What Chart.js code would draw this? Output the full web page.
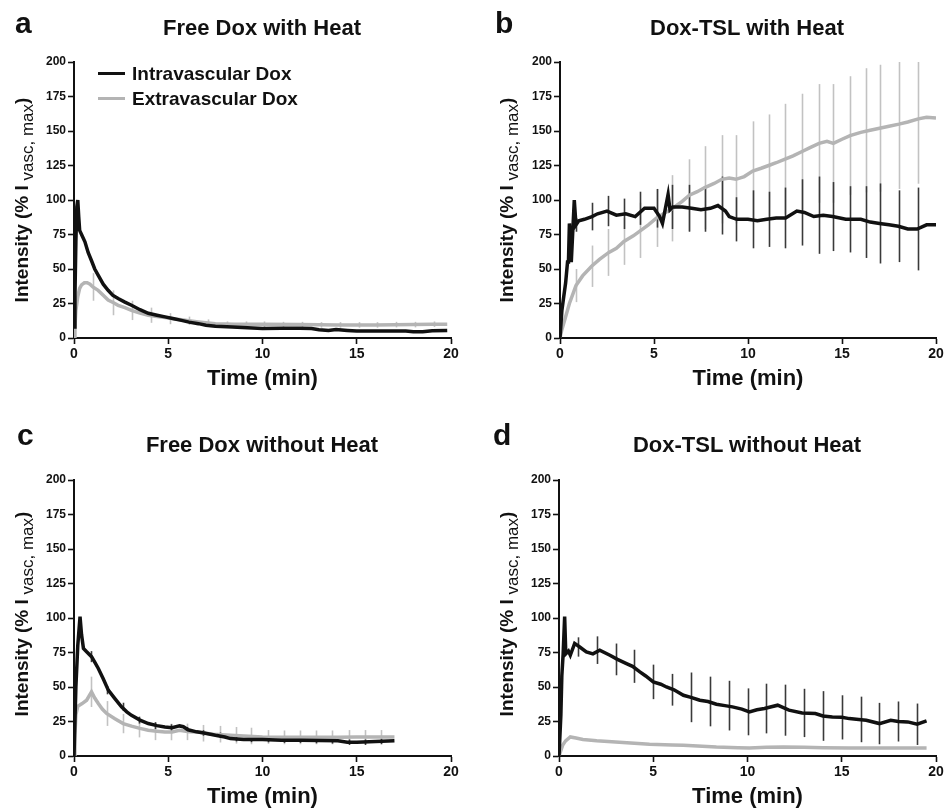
<!DOCTYPE html>
<html>
<head>
<meta charset="utf-8">
<script src="https://cdn.jsdelivr.net/npm/chart.js@4.4.1/dist/chart.umd.min.js"></script>
<style>
  body { margin: 0; background: #fff; width: 947px; height: 810px; position: relative; overflow: hidden;
         font-family: "Liberation Sans", Arial, sans-serif; color: #111; }
  canvas { position: absolute; display: block; }
  .letter { position: absolute; font-weight: bold; font-size: 30px; line-height: 1; }
  .ptitle { position: absolute; font-weight: bold; font-size: 22px; line-height: 1; white-space: nowrap; transform: translateX(-50%); }
  .ytitle { position: absolute; font-weight: bold; font-size: 19px; line-height: 1; white-space: nowrap;
            transform: translate(-50%, -50%) rotate(-90deg); }
  .ytitle sub { font-size: 17px; font-weight: normal; vertical-align: -5px; }
  .leg { position: absolute; font-weight: bold; font-size: 19px; line-height: 1; white-space: nowrap; }
  .leg i { position: absolute; width: 27px; height: 3px; }
</style>
</head>
<body>

<canvas id="ca" width="470" height="400" style="left:0;top:0"></canvas>
<canvas id="cb" width="477" height="400" style="left:470px;top:0"></canvas>
<canvas id="cc" width="470" height="410" style="left:0;top:400px"></canvas>
<canvas id="cd" width="477" height="410" style="left:470px;top:400px"></canvas>

<div class="letter" style="left:15px;top:8px">a</div>
<div class="letter" style="left:495px;top:8px">b</div>
<div class="letter" style="left:17px;top:420px">c</div>
<div class="letter" style="left:493px;top:420px">d</div>

<div class="ptitle" style="left:262px;top:17px">Free Dox with Heat</div>
<div class="ptitle" style="left:747px;top:17px">Dox-TSL with Heat</div>
<div class="ptitle" style="left:262px;top:434px">Free Dox without Heat</div>
<div class="ptitle" style="left:747px;top:434px">Dox-TSL without Heat</div>

<div class="ytitle" style="left:24px;top:200px">Intensity (% I<sub> vasc, max</sub>)</div>
<div class="ytitle" style="left:509px;top:200px">Intensity (% I<sub> vasc, max</sub>)</div>
<div class="ytitle" style="left:24px;top:614px">Intensity (% I<sub> vasc, max</sub>)</div>
<div class="ytitle" style="left:509px;top:614px">Intensity (% I<sub> vasc, max</sub>)</div>

<div class="leg" style="left:132px;top:64px"><i style="left:-34px;top:8px;background:#111"></i>Intravascular Dox</div>
<div class="leg" style="left:132px;top:89px"><i style="left:-34px;top:8px;background:#b4b4b4"></i>Extravascular Dox</div>

<script>
// axis ticks
const xTickValues = [0, 5, 10, 15, 20];
const yTickValues = [0, 25, 50, 75, 100, 125, 150, 175, 200];
const seriesNames = ['Intravascular Dox', 'Extravascular Dox'];

// a - Free Dox with Heat
const aIntraT = [0, 0.05, 0.1, 0.15, 0.2, 0.25, 0.3, 0.4, 0.58, 0.75, 0.93, 1.1, 1.28, 1.55, 1.81, 2.05, 2.34, 2.7, 3.05, 3.5, 3.94, 4.4, 4.83, 5.3, 5.7, 6.1, 6.6, 7.0, 7.5, 8.4, 9.2, 10.0, 11.0, 12.0, 12.6, 13.0, 13.5, 13.9, 14.5, 15.0, 16.0, 17.0, 17.6, 18.0, 18.5, 19.0, 19.8];
const aIntraV = [8, 30, 70, 95, 100, 88, 78, 75, 69.7, 62, 56, 50, 45.5, 39, 34.6, 31, 28.6, 26, 23.7, 20.5, 17.9, 16.5, 15.3, 14, 12.8, 11.5, 10.4, 9.3, 8.5, 8, 7.5, 6.8, 7, 7, 6.8, 6, 5.5, 6.2, 5.5, 5, 5, 5, 5, 4.5, 4.5, 5.2, 5.5];
const aExtraT = [0, 0.05, 0.1, 0.2, 0.3, 0.4, 0.55, 0.7, 0.85, 1.0, 1.28, 1.55, 1.81, 2.1, 2.34, 2.7, 3.05, 3.5, 3.94, 4.4, 4.83, 5.3, 5.7, 6.1, 6.6, 7.0, 7.5, 8.5, 10.0, 12.0, 14.0, 16.0, 18.0, 19.0, 19.8];
const aExtraV = [0, 8, 20, 30, 36, 38.5, 40, 40, 39, 37, 34.5, 31, 27.5, 25.5, 23.7, 22, 20, 18, 16.5, 15.5, 14.8, 14, 13.3, 12.5, 11.6, 11, 10.4, 10, 10, 9.7, 9.5, 9.5, 9.7, 10, 10];
const aErrT = [1.0, 2.05, 3.06, 4.1, 5.1, 6.1, 7.1, 8.1, 9.1, 10.1, 11.1, 12.1, 13.1, 14.1, 15.1, 16.1, 17.1, 18.1, 19.1];
const aExtraSd = [10, 9, 7, 5.5, 4, 3, 2.5, 2, 2, 2, 2, 2, 2, 2, 2, 2, 2, 2, 2];

// b - Dox-TSL with Heat
const bIntraT = [0, 0.1, 0.2, 0.3, 0.4, 0.45, 0.5, 0.6, 0.7, 0.76, 0.85, 1.0, 1.3, 1.7, 2.0, 2.5, 3.0, 3.5, 4.0, 4.5, 5.0, 5.3, 5.45, 5.75, 5.85, 6.0, 6.5, 7.0, 7.5, 8.0, 8.4, 8.8, 9.0, 9.4, 10.0, 10.5, 11.0, 11.5, 12.0, 12.6, 13.0, 13.5, 14.0, 14.5, 15.2, 15.5, 16.0, 16.5, 17.0, 17.5, 18.0, 18.5, 19.0, 19.5, 20.0];
const bIntraV = [0, 20, 30, 40, 55, 55, 83, 55, 83, 100, 82, 85, 86, 88, 90, 92, 89, 90, 88, 94, 94, 88, 83, 104, 93, 95, 95, 94, 93, 94, 96, 92, 88, 86, 86, 85, 86, 87, 87, 92, 91, 88, 89, 88, 86, 86, 86, 84, 83, 82, 81, 79, 79, 82, 82];
const bExtraT = [0, 0.1, 0.25, 0.5, 0.85, 1.2, 1.68, 2.1, 2.6, 3.0, 3.4, 3.9, 4.3, 4.7, 5.14, 5.5, 6.0, 6.5, 6.88, 7.3, 7.7, 8.2, 8.6, 9.0, 9.36, 9.8, 10.25, 10.7, 11.1, 11.5, 11.97, 12.4, 12.85, 13.3, 13.78, 14.2, 14.54, 15.0, 15.43, 16.0, 16.5, 17.0, 17.5, 18.03, 18.5, 19.06, 19.5, 20.0];
const bExtraV = [0, 6, 13, 25, 38, 45, 52, 57, 62, 65, 70, 74, 78, 82, 87, 90, 94, 99, 103.5, 106, 109, 112, 115, 116, 115, 117, 121, 123, 125, 127, 129.7, 132, 135, 138, 141, 142.5, 141, 144, 146.7, 149, 150.5, 152, 153.5, 155, 156.5, 158.8, 160, 159.5];
const bErrT = [0.85, 1.68, 2.57, 3.4, 4.26, 5.14, 5.97, 6.88, 7.73, 8.6, 9.36, 10.25, 11.1, 11.97, 12.85, 13.78, 14.54, 15.43, 16.28, 17.0, 18.03, 19.06];
const bExtraSd = [12, 15, 17, 17, 20, 21, 24, 26, 30, 32, 32, 36, 37, 40, 42, 43, 43, 43, 45, 46, 47, 47];
const bIntraSd = [5, 10, 11, 11, 12, 14, 16, 17, 16, 21, 16, 21, 20, 22, 24, 28, 25, 24, 26, 29, 26, 30];

// c - Free Dox without Heat
const cIntraT = [0, 0.1, 0.2, 0.32, 0.4, 0.5, 0.67, 0.93, 1.1, 1.29, 1.55, 1.82, 2.17, 2.52, 2.8, 3.05, 3.5, 3.94, 4.4, 4.82, 5.2, 5.6, 5.8, 6.05, 6.5, 6.9, 7.5, 8.0, 8.3, 9.0, 10.0, 11.0, 12.0, 13.0, 14.0, 14.5, 15.0, 16.0, 17.0];
const cIntraV = [0, 50, 80, 101, 88, 78, 75.5, 72, 68, 63.4, 56, 47.7, 41.6, 35.6, 32, 29.5, 26, 23.5, 22, 21, 20.5, 21.8, 21.2, 19, 17.5, 16.7, 15, 13.8, 12.6, 12, 11.9, 11.5, 11.5, 11.2, 11, 10, 10, 10.5, 11];
const cExtraT = [0, 0.05, 0.1, 0.2, 0.43, 0.67, 0.93, 1.1, 1.29, 1.5, 1.73, 2.17, 2.61, 3.05, 3.5, 3.94, 4.4, 4.82, 5.2, 5.6, 6.1, 6.6, 7.0, 7.4, 8.3, 9.0, 10.0, 11.0, 12.0, 13.0, 14.0, 15.0, 16.0, 17.0];
const cExtraV = [0, 15, 30, 36, 38, 40.4, 46.5, 42, 38, 34, 30.8, 27, 23.5, 21.6, 20, 18.7, 18, 17.4, 17.4, 18.7, 17.5, 17.4, 16.5, 15.8, 15, 14.5, 13.8, 13.5, 13.5, 13.5, 13.5, 13.8, 13.8, 13.8];
const cErrT = [0.9, 1.75, 2.61, 3.45, 4.3, 5.15, 6.02, 6.87, 7.75, 8.6, 9.4, 10.3, 11.15, 12.0, 12.85, 13.7, 14.6, 15.45, 16.3];
const cExtraSd = [11, 9, 7, 6.5, 6.5, 6, 6, 6, 6, 6, 6, 5, 5, 5, 5, 5, 5, 5, 5];
const cIntraSd = [4, 3, 3, 2.5, 2.5, 2.5, 2, 2, 2, 2, 2, 2, 2, 2, 2, 2, 2, 2, 2];

// d - Dox-TSL without Heat
const dIntraT = [0, 0.1, 0.15, 0.22, 0.3, 0.36, 0.5, 0.6, 0.83, 1.1, 1.45, 1.8, 2.16, 2.7, 3.1, 3.58, 3.9, 4.29, 4.6, 5.0, 5.4, 5.7, 6.1, 6.6, 7.0, 7.47, 7.9, 8.35, 8.8, 9.2, 9.7, 10.1, 10.5, 10.9, 11.6, 12.2, 12.9, 13.6, 14.0, 14.5, 15.0, 15.4, 15.9, 16.3, 17.0, 17.6, 18.0, 18.5, 19.0, 19.5];
const dIntraV = [0, 30, 58, 74, 101, 74, 76, 73, 81.6, 79, 75.5, 74, 76.7, 73, 70, 67, 65, 61, 58, 53.7, 52, 50, 48, 44, 42.5, 40.4, 39.5, 37.5, 36.5, 35.6, 34, 32, 33.5, 34.4, 36.8, 33.2, 31.2, 30.8, 29, 28.3, 28, 27.1, 26.5, 25.9, 23.5, 25.9, 25, 24.7, 23, 25.4];
const dExtraT = [0, 0.1, 0.2, 0.35, 0.6, 0.9, 1.27, 2.0, 3.0, 4.0, 4.8, 6.0, 6.6, 8.35, 9.5, 10.1, 11.0, 11.9, 13.0, 14.0, 15.4, 17.0, 18.0, 19.5];
const dExtraV = [0, 4, 8, 11, 13.8, 13, 11.9, 11, 10.2, 9.2, 8.5, 8, 7.8, 6.5, 6, 5.8, 6.3, 6.5, 6.3, 6, 5.8, 5.8, 5.8, 5.8];
const dErrT = [1, 2, 3, 4, 5, 6, 7, 8, 9, 10, 11, 12, 13, 14, 15, 16, 17, 18, 19];
const dIntraSd = [7, 10, 11.5, 12, 12.5, 11.5, 18, 18, 18, 17, 18, 18.5, 17.5, 18, 16, 16.5, 15, 14.5, 15];

const lineColors = ['#111111', '#b4b4b4'];
const barColors = ['#3a3a3a', '#c2c2c2'];

// value of the recorded point nearest to t (error bars sit on the mean curve)
function nearestValue(ts, vs, t) {
  let best = 0;
  ts.forEach((x, i) => { if (Math.abs(x - t) < Math.abs(ts[best] - t)) best = i; });
  return vs[best];
}

const errorBars = {
  id: 'errorBars',
  beforeDatasetsDraw(chart, args, opts) {
    const { ctx, chartArea, scales: { x, y } } = chart;
    ctx.save();
    ctx.beginPath();
    ctx.rect(chartArea.left, chartArea.top, chartArea.width, chartArea.height);
    ctx.clip();
    (opts.sets || []).forEach(set => {
      ctx.strokeStyle = barColors[set.series];
      ctx.lineWidth = 1.6;
      set.t.forEach((t, i) => {
        const m = nearestValue(set.st, set.sv, t);
        const px = Math.round(x.getPixelForValue(t)) + 0.5;
        ctx.beginPath();
        ctx.moveTo(px, y.getPixelForValue(m - set.sd[i]));
        ctx.lineTo(px, y.getPixelForValue(m + set.sd[i]));
        ctx.stroke();
      });
    });
    ctx.restore();
  }
};

function axis(values, fontSize, fitKey, fitSize, title) {
  return {
    type: 'linear',
    min: values[0],
    max: values[values.length - 1],
    afterBuildTicks: s => { s.ticks = values.map(v => ({ value: v })); },
    afterFit: s => { s[fitKey] = fitSize; },
    ticks: { color: '#111', font: { family: '"Liberation Sans", Arial', size: fontSize, weight: 'bold' }, padding: 2, autoSkip: false, maxRotation: 0 },
    grid: { drawOnChartArea: false, drawTicks: true, tickLength: 6, tickWidth: 1.6, tickColor: '#111', color: '#111' },
    border: { color: '#111', width: 2 },
    title: title ? { display: true, text: title, color: '#111', padding: 0,
                     font: { family: '"Liberation Sans", Arial', size: 22, weight: 'bold' } } : { display: false }
  };
}

function makePanel(id, pad, intra, extra, bars) {
  const sets = [intra, extra].map((s, k) => ({
    label: seriesNames[k],
    data: s[0].map((t, i) => ({ x: t, y: s[1][i] })),
    borderColor: lineColors[k],
    backgroundColor: lineColors[k],
    borderWidth: 3.5,
    pointRadius: 0,
    tension: 0
  }));
  new Chart(document.getElementById(id), {
    type: 'line',
    data: { datasets: sets },
    plugins: [errorBars],
    options: {
      responsive: false,
      animation: false,
      layout: { padding: pad },
      plugins: {
        legend: { display: false },
        tooltip: { enabled: false },
        errorBars: { sets: bars }
      },
      scales: {
        x: axis(xTickValues, 14, 'height', 54, 'Time (min)'),
        y: axis(yTickValues, 12, 'width', 40, null)
      }
    }
  });
}

makePanel('ca', { left: 34, right: 19, top: 62, bottom: 8 },
  [aIntraT, aIntraV], [aExtraT, aExtraV],
  [{ series: 1, t: aErrT, sd: aExtraSd, st: aExtraT, sv: aExtraV }]);

makePanel('cb', { left: 50, right: 11, top: 62, bottom: 8 },
  [bIntraT, bIntraV], [bExtraT, bExtraV],
  [{ series: 1, t: bErrT, sd: bExtraSd, st: bExtraT, sv: bExtraV },
   { series: 0, t: bErrT, sd: bIntraSd, st: bIntraT, sv: bIntraV }]);

makePanel('cc', { left: 34, right: 19, top: 80, bottom: 0 },
  [cIntraT, cIntraV], [cExtraT, cExtraV],
  [{ series: 1, t: cErrT, sd: cExtraSd, st: cExtraT, sv: cExtraV },
   { series: 0, t: cErrT, sd: cIntraSd, st: cIntraT, sv: cIntraV }]);

makePanel('cd', { left: 49, right: 11, top: 80, bottom: 0 },
  [dIntraT, dIntraV], [dExtraT, dExtraV],
  [{ series: 0, t: dErrT, sd: dIntraSd, st: dIntraT, sv: dIntraV }]);
</script>
</body>
</html>
